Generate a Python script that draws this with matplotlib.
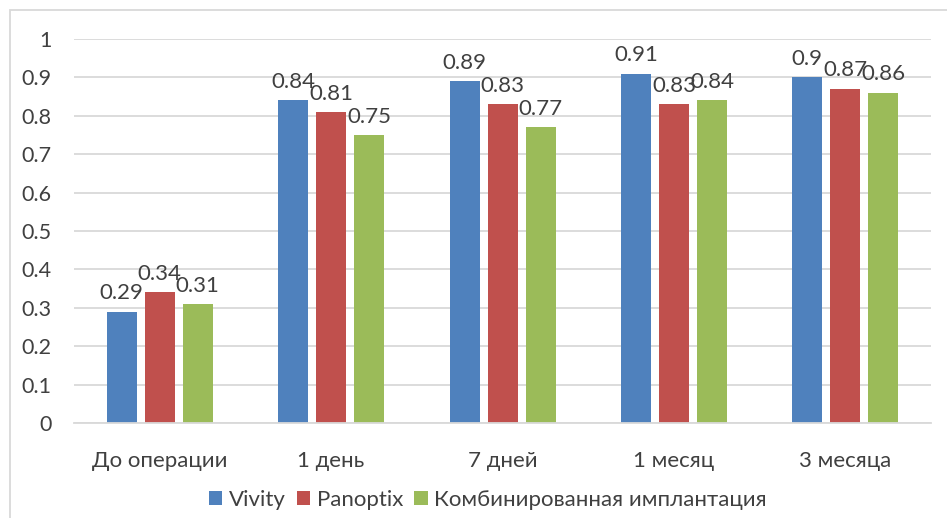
import matplotlib
matplotlib.use("Agg")
import matplotlib.pyplot as plt
from matplotlib.patches import Rectangle
import numpy as np

plt.rcParams['font.family'] = ['Lato', 'DejaVu Sans']

categories = ["До операции", "1 день", "7 дней", "1 месяц", "3 месяца"]
series_names = ["Vivity", "Panoptix", "Комбинированная имплантация"]
vivity = [0.29, 0.84, 0.89, 0.91, 0.90]
panoptix = [0.34, 0.81, 0.83, 0.83, 0.87]
combined = [0.31, 0.75, 0.77, 0.84, 0.86]
y_ticks = [0, 0.1, 0.2, 0.3, 0.4, 0.5, 0.6, 0.7, 0.8, 0.9, 1]
y_tick_labels = ["0", "0.1", "0.2", "0.3", "0.4", "0.5", "0.6", "0.7", "0.8", "0.9", "1"]

colors = ["#4F81BD", "#C0504D", "#9BBB59"]
text_color = "#404040"
grid_color = "#D9D9D9"

W, H = 947, 518
fig = plt.figure(figsize=(W / 100, H / 100), dpi=100)

# chart area border (runs off the right and bottom edges)
fig.patches.append(Rectangle((10 / W, -10 / H), 960 / W, 518 / H, transform=fig.transFigure,
                             fill=False, edgecolor=grid_color, linewidth=1.3))

left, right = 74, 931
top, bottom = 39, 423
ax = fig.add_axes([left / W, 1 - bottom / H, (right - left) / W, (bottom - top) / H])

x = np.arange(len(categories))
bar_w = 30 / 171.4
step = 38 / 171.4
for i, (vals, name, c) in enumerate(zip([vivity, panoptix, combined], series_names, colors)):
    pos = x + (i - 1) * step
    bars = ax.bar(pos, vals, width=bar_w, color=c, label=name, zorder=3)
    for b, v in zip(bars, vals):
        ax.text(b.get_x() + b.get_width() / 2, v + 0.022, f"{v:g}", ha="center", va="bottom",
                fontsize=16, color=text_color, zorder=4)

ax.set_xlim(-0.5, len(categories) - 0.5)
ax.set_ylim(0, 1)
ax.set_yticks(y_ticks)
ax.set_yticklabels(y_tick_labels)
ax.set_xticks(x)
ax.set_xticklabels(categories)
ax.grid(axis="y", color=grid_color, linewidth=1.3, zorder=0)
for s in ["top", "right", "left"]:
    ax.spines[s].set_visible(False)
ax.spines["bottom"].set_color(grid_color)
ax.spines["bottom"].set_linewidth(1.3)
ax.spines["bottom"].set_zorder(3)
ax.tick_params(axis="both", length=0, labelcolor=text_color)
ax.tick_params(axis="y", pad=16, labelsize=15.5)
ax.tick_params(axis="x", pad=20, labelsize=16)

fig.legend(loc="center", bbox_to_anchor=(488 / W, 1 - 500 / H), ncol=3, frameon=False,
           fontsize=16, handlelength=0.6, handleheight=0.6, handletextpad=0.3,
           columnspacing=0.5, labelcolor=text_color)

fig.savefig("out.png", dpi=100)
